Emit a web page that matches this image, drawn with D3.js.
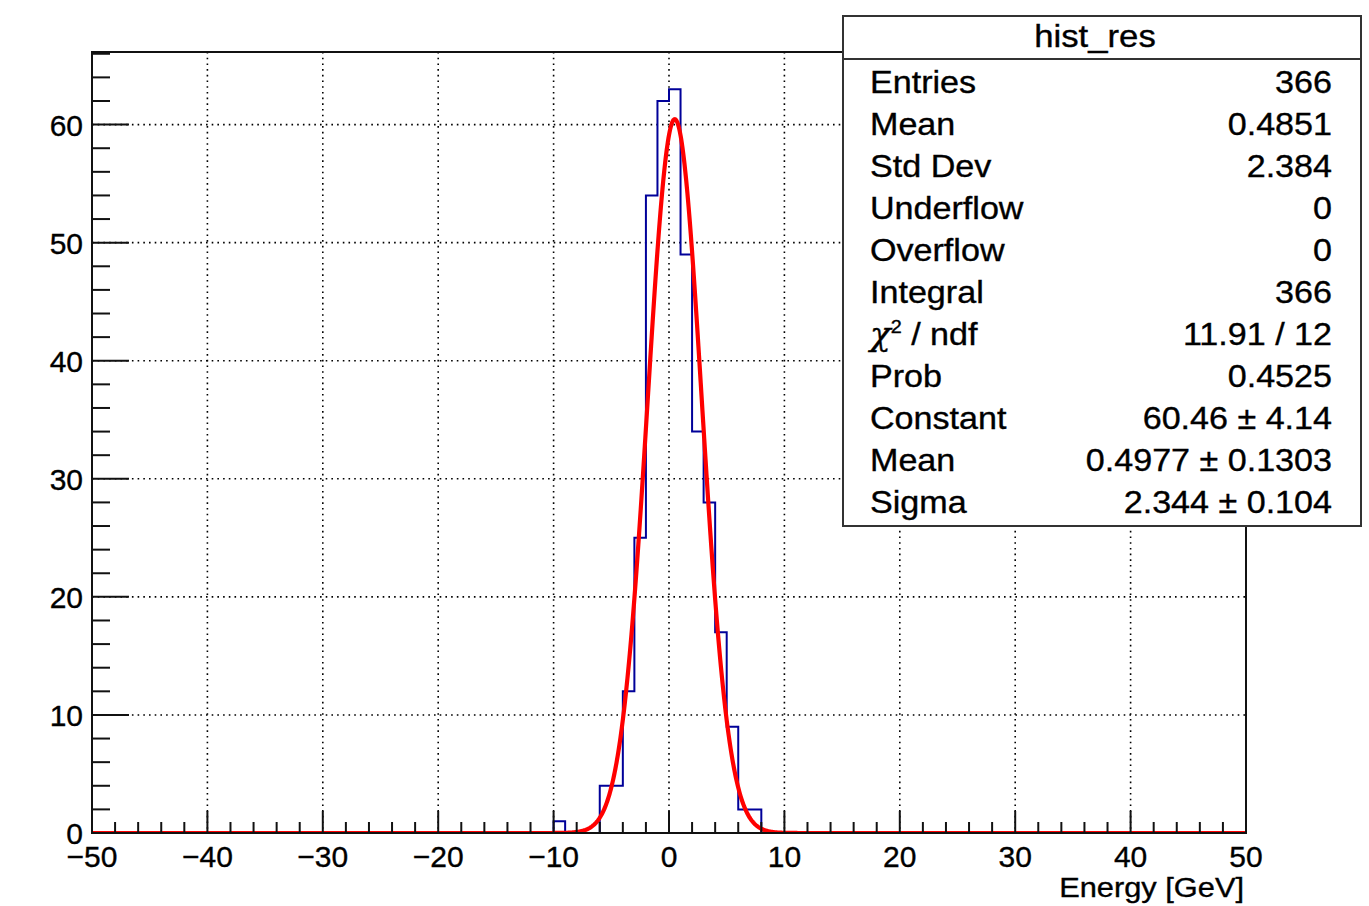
<!DOCTYPE html>
<html>
<head>
<meta charset="utf-8">
<script src="https://cdn.jsdelivr.net/npm/d3@7"></script>
<style>
    body { margin: 0; background: #fff; }
    text { font-family: "Liberation Sans", Arial, Helvetica, sans-serif; fill: #000; stroke: #000; stroke-width: 0.35px; }
</style>
</head>
<body>
<div id="chart"></div>
<script>
// histogram bins (width 1 GeV, non-empty bins only)
let binLow = [-10, -6, -5, -4, -3, -2, -1, 0, 1, 2, 3, 4, 5, 6, 7]
let binCount = [1, 4, 4, 12, 25, 54, 62, 63, 49, 34, 28, 17, 9, 2, 2]
let binWidth = 1

// gaus fit parameters: constant, mean, sigma
let fitParams = [60.46, 0.4977, 2.344]

let xTicks = [-50, -40, -30, -20, -10, 0, 10, 20, 30, 40, 50]
let yTicks = [0, 10, 20, 30, 40, 50, 60]

let statsTitle = "hist_res"
let statsNames = ["Entries", "Mean", "Std Dev", "Underflow", "Overflow", "Integral", "chi2", "Prob", "Constant", "Mean", "Sigma"]
let statsValues = ["366", "0.4851", "2.384", "0", "0", "366", "11.91 / 12", "0.4525", "60.46 \u00b1 4.14", "0.4977 \u00b1 0.1303", "2.344 \u00b1 0.104"]

let W = 1369, H = 906
let frame = { left: 92, right: 1246, top: 52, bottom: 833 }
let textScale = 1.1

let svg = d3.select("#chart")
    .append("svg")
    .attr("width", W)
    .attr("height", H)

let x = d3.scaleLinear().domain([-50, 50]).range([frame.left, frame.right])
let y = d3.scaleLinear().domain([0, 66.15]).range([frame.bottom, frame.top])

svg.append("clipPath")
    .attr("id", "frameClip")
    .append("rect")
    .attr("x", frame.left)
    .attr("y", frame.top)
    .attr("width", frame.right - frame.left)
    .attr("height", frame.bottom - frame.top)

//网格 dotted grid
svg.append("g")
    .selectAll("line")
    .data(xTicks.slice(1, -1))
    .enter()
    .append("line")
    .attr("x1", d => x(d)).attr("x2", d => x(d))
    .attr("y1", frame.top).attr("y2", frame.bottom)
    .attr("stroke", "#000")
    .attr("stroke-width", 1.6)
    .attr("stroke-dasharray", "1.6,4.1")
svg.append("g")
    .selectAll("line")
    .data(yTicks.slice(1))
    .enter()
    .append("line")
    .attr("x1", frame.left).attr("x2", frame.right)
    .attr("y1", d => y(d)).attr("y2", d => y(d))
    .attr("stroke", "#000")
    .attr("stroke-width", 1.6)
    .attr("stroke-dasharray", "1.6,4.1")

// full list of bins from -50 to 50, empty ones are 0
let bins = d3.range(-50, 50, binWidth).map(function (lo) {
    let k = binLow.indexOf(lo)
    return { lo: lo, hi: lo + binWidth, n: k == -1 ? 0 : binCount[k] }
})
let histPts = [[-50, 0]]
bins.forEach(function (b) {
    histPts.push([b.lo, b.n])
    histPts.push([b.hi, b.n])
})
histPts.push([50, 0])

let line = d3.line()
    .x(d => x(d[0]))
    .y(d => y(d[1]))

svg.append("path")
    .datum(histPts)
    .attr("clip-path", "url(#frameClip)")
    .attr("d", line)
    .attr("fill", "none")
    .attr("stroke", "#000099")
    .attr("stroke-width", 2)

// fit function drawn from the fitted parameters
let gaus = function (v) {
    let t = (v - fitParams[1]) / fitParams[2]
    return fitParams[0] * Math.exp(-0.5 * t * t)
}
let fitPts = d3.range(-50, 50.001, 0.05).map(v => [v, gaus(v)])
svg.append("path")
    .datum(fitPts)
    .attr("clip-path", "url(#frameClip)")
    .attr("d", line)
    .attr("fill", "none")
    .attr("stroke", "#ff0000")
    .attr("stroke-width", 4.2)
    .attr("stroke-linejoin", "round")

//坐标轴 axes and ticks
let axisG = svg.append("g")
    .attr("stroke", "#111")
    .attr("stroke-width", 2)

axisG.append("rect")
    .attr("x", frame.left)
    .attr("y", frame.top)
    .attr("width", frame.right - frame.left)
    .attr("height", frame.bottom - frame.top)
    .attr("fill", "none")

let xMinor = d3.range(-50, 50.001, 2)
axisG.selectAll(".xtick")
    .data(xMinor)
    .enter()
    .append("line")
    .attr("class", "xtick")
    .attr("x1", d => x(d)).attr("x2", d => x(d))
    .attr("y1", frame.bottom)
    .attr("y2", d => frame.bottom - (d % 10 == 0 ? 22 : 11))

let yMinor = d3.range(0, 66.001, 2)
axisG.selectAll(".ytick")
    .data(yMinor)
    .enter()
    .append("line")
    .attr("class", "ytick")
    .attr("y1", d => y(d)).attr("y2", d => y(d))
    .attr("x1", frame.left)
    .attr("x2", d => frame.left + (d % 10 == 0 ? 37 : 18))

let fmt = d3.format("d")

svg.selectAll(".xlab")
    .data(xTicks)
    .enter()
    .append("text")
    .attr("class", "xlab")
    .attr("x", d => x(d))
    .attr("y", 867)
    .attr("text-anchor", "middle")
    .style("font-size", "30px")
    .text(d => fmt(d))

svg.selectAll(".ylab")
    .data(yTicks)
    .enter()
    .append("text")
    .attr("class", "ylab")
    .attr("x", 83)
    .attr("y", d => y(d) + 11)
    .attr("text-anchor", "end")
    .style("font-size", "30px")
    .text(d => fmt(d))

svg.append("text")
    .attr("transform", "translate(1244,897) scale(" + textScale + ",1)")
    .attr("text-anchor", "end")
    .style("font-size", "28px")
    .text("Energy [GeV]")

//统计框 stats box
let box = { left: 843, right: 1361, top: 16, bottom: 526, titleLine: 59 }
let statsG = svg.append("g")
statsG.append("rect")
    .attr("x", box.left)
    .attr("y", box.top)
    .attr("width", box.right - box.left)
    .attr("height", box.bottom - box.top)
    .attr("fill", "#fff")
    .attr("stroke", "#333")
    .attr("stroke-width", 2)
statsG.append("line")
    .attr("x1", box.left).attr("x2", box.right)
    .attr("y1", box.titleLine).attr("y2", box.titleLine)
    .attr("stroke", "#333")
    .attr("stroke-width", 2)

statsG.append("text")
    .attr("transform", "translate(1095,47) scale(1.12,1)")
    .attr("text-anchor", "middle")
    .style("font-size", "31px")
    .text(statsTitle)

statsNames.forEach(function (name, i) {
    let by = 93 + i * 42
    let t = statsG.append("text")
        .attr("transform", "translate(870," + by + ") scale(" + textScale + ",1)")
        .style("font-size", "31px")
    if (name == "chi2") {
        t.append("tspan").style("font-family", "DejaVu Serif").style("font-style", "italic").text("\u03c7")
        t.append("tspan").attr("dy", -12).style("font-size", "18px").text("2")
        t.append("tspan").attr("dy", 12).text(" / ndf")
    } else {
        t.text(name)
    }
    statsG.append("text")
        .attr("transform", "translate(1332," + by + ") scale(" + textScale + ",1)")
        .attr("text-anchor", "end")
        .style("font-size", "31px")
        .text(statsValues[i])
})
</script>
</body>
</html>
